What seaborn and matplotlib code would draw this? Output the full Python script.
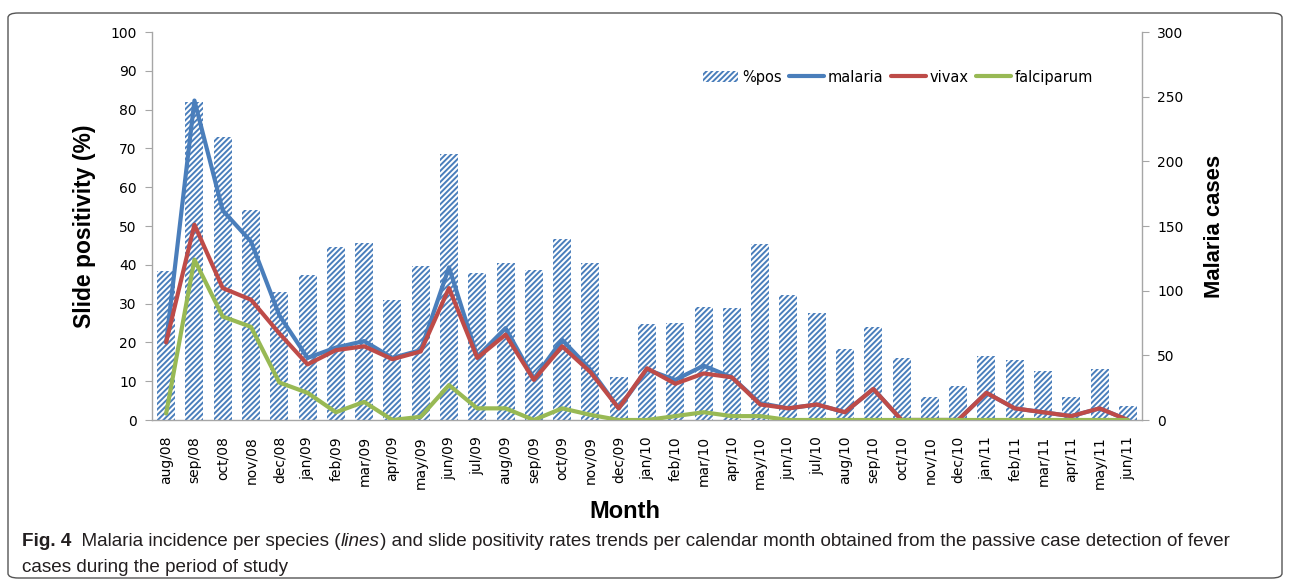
import matplotlib
matplotlib.use("Agg")
import matplotlib.pyplot as plt
import matplotlib.patches as mpatches
from matplotlib.lines import Line2D
import seaborn as sns
import pandas as pd
import numpy as np

months = ["aug/08", "sep/08", "oct/08", "nov/08", "dec/08", "jan/09", "feb/09", "mar/09",
          "apr/09", "may/09", "jun/09", "jul/09", "aug/09", "sep/09", "oct/09", "nov/09",
          "dec/09", "jan/10", "feb/10", "mar/10", "apr/10", "may/10", "jun/10", "jul/10",
          "aug/10", "sep/10", "oct/10", "nov/10", "dec/10", "jan/11", "feb/11", "mar/11",
          "apr/11", "may/11", "jun/11"]
pct_pos = [38.5, 82, 73, 54, 33, 37.4, 44.6, 45.6, 31, 39.7, 68.6, 38, 40.5, 38.7, 46.6, 40.5,
           11, 24.7, 25, 29, 28.9, 45.4, 32.2, 27.6, 18.3, 24, 16, 5.8, 8.8, 16.5, 15.5, 12.6,
           6, 13.1, 3.7]
malaria = [60, 247, 162, 138, 81, 48, 56, 61, 48, 54, 118, 49, 71, 32, 62, 39,
           9, 39, 31, 42, 33, 13, 9, 12, 6, 24, 0, 0, 0, 21, 9, 6, 3, 9, 0]
vivax = [60, 151, 102, 93, 67, 43, 54, 57, 47, 53, 102, 48, 66, 31, 57, 37,
         9, 40, 28, 36, 33, 12, 9, 12, 6, 24, 0, 0, 0, 21, 9, 6, 3, 9, 0]
falciparum = [5, 124, 80, 72, 29, 21, 6, 14, 0, 2.5, 27, 9, 9, 0, 9, 4,
              0, 0, 3, 6, 3, 3, 0, 0, 0, 0, 0, 0, 0, 0, 0, 0, 0, 0, 0]

BLUE = "#4a7ebb"
RED = "#be4b48"
GREEN = "#98b954"
GRAY = "#a6a6a6"

sns.set_style("white")
plt.rcParams["font.family"] = ["DejaVu Sans"]
plt.rcParams["hatch.linewidth"] = 1.4
plt.rcParams["text.color"] = "black"
plt.rcParams["axes.labelcolor"] = "black"
plt.rcParams["xtick.color"] = "black"
plt.rcParams["ytick.color"] = "black"

df = pd.DataFrame({"month": months, "pos": pct_pos, "idx": np.arange(len(months)),
                   "malaria": malaria, "vivax": vivax, "falciparum": falciparum})

fig = plt.figure(figsize=(12.9, 5.85), dpi=100)
ax = fig.add_axes([152/1290, 1-420/585, (1142-152)/1290, (420-32)/585])

sns.barplot(data=df, x="month", y="pos", order=months, ax=ax, color="white",
            saturation=1, width=0.64, hatch="//////", edgecolor=BLUE, linewidth=0)

ax2 = ax.twinx()
for col, c in [("malaria", BLUE), ("vivax", RED), ("falciparum", GREEN)]:
    sns.lineplot(data=df, x="idx", y=col, ax=ax2, color=c, linewidth=3.0,
                 estimator=None, legend=False)

ax.set_xlim(-0.5, len(months)-0.5)
ax.set_ylim(0, 100)
ax2.set_ylim(0, 300)
ax.set_yticks(range(0, 101, 10))
ax2.set_yticks(range(0, 301, 50))

for a in (ax, ax2):
    for s in a.spines.values():
        s.set_color(GRAY)
        s.set_linewidth(1.0)
    a.spines["top"].set_visible(False)
ax.spines["right"].set_visible(False)
ax2.spines["left"].set_visible(False)
ax2.spines["bottom"].set_visible(False)

ax.tick_params(axis="y", left=True, length=5, color=GRAY, labelcolor="black", labelsize=10, pad=6)
ax2.tick_params(axis="y", right=True, length=5, color=GRAY, labelcolor="black", labelsize=10, pad=6)
ax.tick_params(axis="x", bottom=False, labelsize=10, labelcolor="black", pad=8)
ax.set_xticks(range(len(months)))
ax.set_xticklabels(months, rotation=90)

ax.set_xlabel("Month", fontsize=17, fontweight="bold", family="Liberation Sans")
ax.xaxis.set_label_coords((625-152)/990, -0.205)
ax.set_ylabel("Slide positivity (%)", fontsize=16.5, fontweight="bold",
              family="Liberation Sans", labelpad=10)
ax2.set_ylabel("Malaria cases", fontsize=15.8, fontweight="bold",
               family="Liberation Sans", labelpad=15)

handles = [mpatches.Patch(facecolor="white", edgecolor=BLUE, hatch="//////", linewidth=0, label="%pos"),
           Line2D([], [], color=BLUE, lw=3.0, label="malaria"),
           Line2D([], [], color=RED, lw=3.0, label="vivax"),
           Line2D([], [], color=GREEN, lw=3.0, label="falciparum")]
ax2.legend(handles=handles, loc="center", bbox_to_anchor=((898-152)/990, (420-77)/388), ncol=4,
           frameon=False, fontsize=10.5, handlelength=2.4, handletextpad=0.25,
           columnspacing=0.5)

# frame
frame = mpatches.FancyBboxPatch((8/1290, 7/585), (1282-8)/1290, (575-10)/585,
                                boxstyle="round,pad=0,rounding_size=0.008",
                                transform=fig.transFigure, fill=False,
                                edgecolor="#555555", linewidth=1.0)
fig.patches.append(frame)

# caption
cap_family = ["Liberation Sans"]
fig.canvas.draw()
r = fig.canvas.get_renderer()
x = 22/1290
y1 = 1-541/585
pieces = [("Fig. 4", "bold", "normal"), ("  Malaria incidence per species (", "normal", "normal"),
          ("lines", "normal", "italic"),
          (") and slide positivity rates trends per calendar month obtained from the passive case detection of fever",
           "normal", "normal")]
for txt, w, st in pieces:
    t = fig.text(x, y1, txt, fontsize=13.6, fontweight=w, fontstyle=st, family=cap_family,
                 va="center", ha="left", color="#231f20")
    bb = t.get_window_extent(renderer=r)
    x += bb.width/1290
fig.text(22/1290, 1-567/585, "cases during the period of study", fontsize=13.6,
         family=cap_family, va="center", ha="left", color="#231f20")

fig.savefig("out.png", dpi=100)
